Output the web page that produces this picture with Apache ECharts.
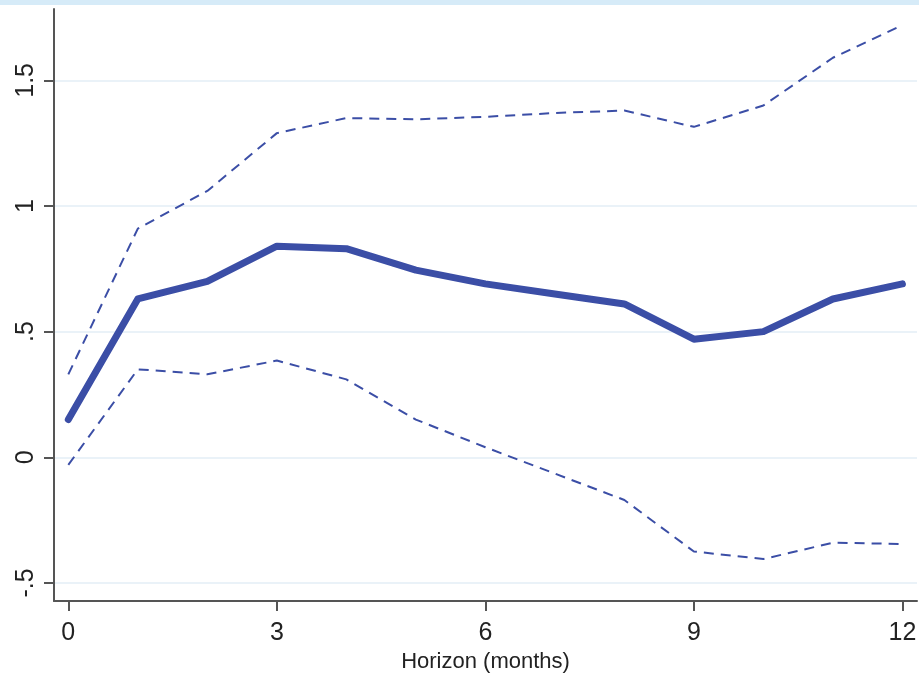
<!DOCTYPE html>
<html>
<head>
<meta charset="utf-8">
<script src="https://cdn.jsdelivr.net/npm/echarts@6/dist/echarts.min.js"></script>
<style>
  html, body { margin: 0; padding: 0; background: #fff; }
  #chart { width: 919px; height: 674px; }
</style>
</head>
<body>
<div id="chart"></div>
<script>
// horizon in months
const horizons = [0, 1, 2, 3, 4, 5, 6, 7, 8, 9, 10, 11, 12];
// point estimate and confidence bands
const estimate = [0.15, 0.63, 0.70, 0.84, 0.83, 0.745, 0.69, 0.65, 0.61, 0.47, 0.50, 0.63, 0.69];
const upperBand = [0.33, 0.91, 1.06, 1.29, 1.35, 1.345, 1.355, 1.37, 1.38, 1.315, 1.40, 1.59, 1.72];
const lowerBand = [-0.03, 0.35, 0.33, 0.385, 0.31, 0.15, 0.04, -0.065, -0.17, -0.375, -0.405, -0.34, -0.345];

const xTicks = [0, 3, 6, 9, 12];
const yTicks = [-0.5, 0, 0.5, 1, 1.5];

const lineColor = "#3b4ea6";
const axisColor = "#555";

function pairs(vals) {
  return horizons.map((h, i) => [h, vals[i]]);
}

function fmtY(v) {
  // Stata style: .5 / -.5
  let s = String(v);
  return s.replace(/^0\./, ".").replace(/^-0\./, "-.");
}

const chart = echarts.init(document.getElementById("chart"));

const option = {
  animation: false,
  backgroundColor: "#fff",
  graphic: [
    {
      type: "rect",
      left: 0,
      top: 0,
      shape: { width: 919, height: 5 },
      style: { fill: "#d6ebf8" },
      silent: true,
    },
  ],
  grid: { left: 54, right: 2, top: 9, bottom: 73, outerBoundsMode: "none", containLabel: false },
  xAxis: {
    type: "value",
    min: -0.206,
    max: 12.21,
    name: "Horizon (months)",
    nameLocation: "middle",
    nameGap: 43,
    nameTextStyle: { color: "#222", fontSize: 22, fontFamily: "Liberation Sans" },
    axisLine: { show: true, onZero: false, lineStyle: { color: axisColor, width: 2 } },
    axisTick: { show: true, length: 10, customValues: xTicks, lineStyle: { color: axisColor, width: 2 } },
    axisLabel: {
      customValues: xTicks,
      color: "#222",
      fontSize: 25,
      fontFamily: "Liberation Sans",
      margin: 20,
    },
    splitLine: { show: false },
  },
  yAxis: {
    type: "value",
    min: -0.572,
    max: 1.784,
    axisLine: { show: true, onZero: false, lineStyle: { color: axisColor, width: 2 } },
    axisTick: { show: true, length: 10, customValues: yTicks, lineStyle: { color: axisColor, width: 2 } },
    axisLabel: {
      customValues: yTicks,
      color: "#222",
      fontSize: 25,
      fontFamily: "Liberation Sans",
      rotate: 90,
      margin: 15,
      formatter: fmtY,
    },
    splitLine: { show: true, lineStyle: { color: "#eaf2f8", width: 2 } },
  },
  series: [
    {
      name: "upper",
      type: "line",
      data: pairs(upperBand),
      symbol: "none",
      lineStyle: { color: lineColor, width: 2, type: [10, 7] },
    },
    {
      name: "lower",
      type: "line",
      data: pairs(lowerBand),
      symbol: "none",
      lineStyle: { color: lineColor, width: 2, type: [10, 7] },
    },
    {
      name: "estimate",
      type: "line",
      data: pairs(estimate),
      symbol: "none",
      lineStyle: { color: lineColor, width: 7, join: "round", cap: "round" },
    },
  ],
};

chart.setOption(option);
</script>
</body>
</html>
